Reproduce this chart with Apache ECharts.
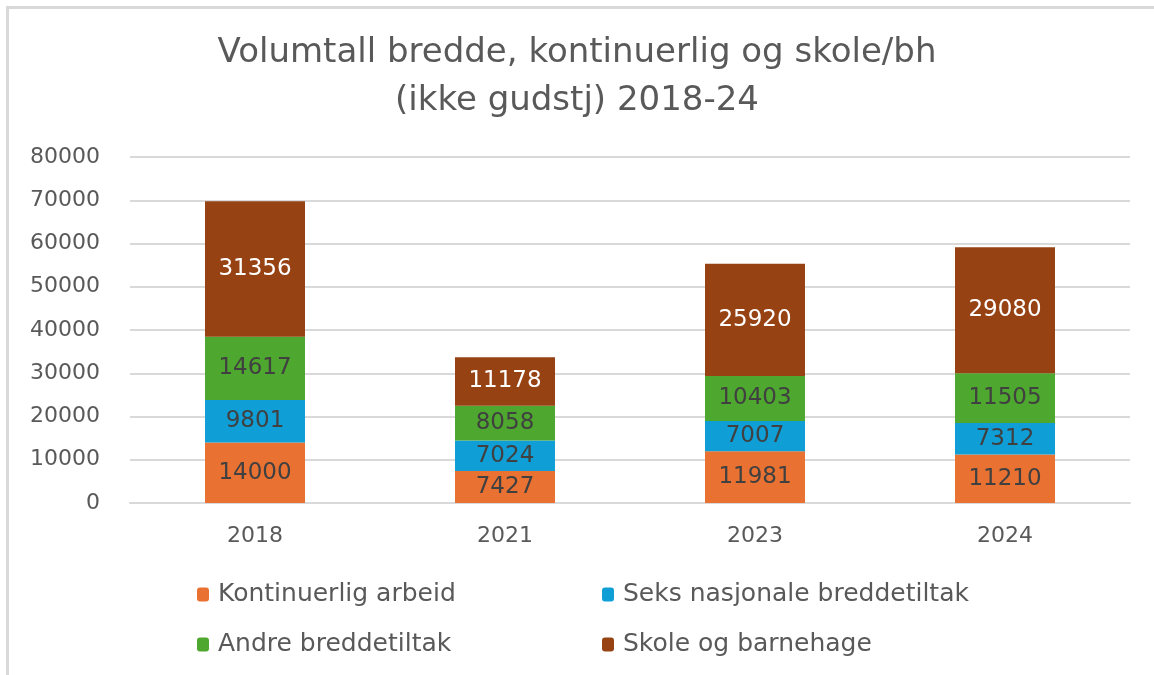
<!DOCTYPE html>
<html>
  <head>
    <meta charset="utf-8">
    <title>Volumtall bredde</title>
    <script src="https://cdn.jsdelivr.net/npm/echarts@6/dist/echarts.min.js"></script>
    <style>
      html, body { margin: 0; padding: 0; background: #fff; }
      #chart1 { width: 1154px; height: 675px; }
    </style>
  </head>
  <body>
    <div id="chart1"></div>
  </body>
  <script>
    // data
    var years = ['2018', '2021', '2023', '2024'];
    var kontinuerlig = [14000, 7427, 11981, 11210];
    var seks = [9801, 7024, 7007, 7312];
    var andre = [14617, 8058, 10403, 11505];
    var skole = [31356, 11178, 25920, 29080];
    var seriesNames = ['Kontinuerlig arbeid', 'Seks nasjonale breddetiltak', 'Andre breddetiltak', 'Skole og barnehage'];
    var colors = ['#E97132', '#0F9ED5', '#4EA72E', '#964213'];

    var numFont = 'DejaVu Sans';
    var textFont = 'DejaVu Sans';

    function bar(name, data, color, labelColor) {
      return {
        name: name,
        type: 'bar',
        stack: 'total',
        barWidth: '40%',
        data: data,
        itemStyle: { color: color },
        label: {
          show: true,
          position: 'inside',
          color: labelColor,
          fontFamily: numFont,
          fontSize: 23
        }
      };
    }

    function legendItem(name, left, top) {
      return {
        data: [name],
        left: left,
        top: top,
        itemWidth: 12,
        itemHeight: 14,
        itemGap: 0,
        textStyle: { color: '#595959', fontFamily: textFont, fontSize: 25, padding: [0, 0, 0, 4] }
      };
    }

    var myChart = echarts.init(document.getElementById('chart1'));
    var option = {
      color: colors,
      animation: false,
      title: {
        text: 'Volumtall bredde, kontinuerlig og skole/bh\n(ikke gudstj) 2018-24',
        left: 'center',
        top: 24,
        textStyle: {
          color: '#595959',
          fontFamily: textFont,
          fontWeight: 'normal',
          fontSize: 34,
          lineHeight: 48
        }
      },
      graphic: [
        // chart border (right and bottom fall outside the picture)
        { type: 'rect', shape: { x: 7.5, y: 7.5, width: 1200, height: 700 },
          style: { fill: null, stroke: '#D9D9D9', lineWidth: 3 } }
      ],
      legend: [
        legendItem(seriesNames[0], 192, 577),
        legendItem(seriesNames[1], 597, 577),
        legendItem(seriesNames[2], 192, 627),
        legendItem(seriesNames[3], 597, 627)
      ],
      grid: { left: 130, right: 24, top: 157, bottom: 172 },
      xAxis: {
        type: 'category',
        data: years,
        axisLine: { lineStyle: { color: '#D9D9D9', width: 2 } },
        axisTick: { show: false },
        axisLabel: { color: '#595959', fontFamily: numFont, fontSize: 22, margin: 22 }
      },
      yAxis: {
        type: 'value',
        min: 0,
        max: 80000,
        interval: 10000,
        axisLine: { show: false },
        axisTick: { show: false },
        splitLine: { lineStyle: { color: '#D9D9D9', width: 2 } },
        axisLabel: {
          color: '#595959', fontFamily: numFont, fontSize: 22, margin: 30,
          formatter: function (v) { return String(v); }
        }
      },
      series: [
        bar(seriesNames[0], kontinuerlig, colors[0], '#404040'),
        bar(seriesNames[1], seks, colors[1], '#404040'),
        bar(seriesNames[2], andre, colors[2], '#404040'),
        bar(seriesNames[3], skole, colors[3], '#FFFFFF')
      ]
    };
    myChart.setOption(option);
  </script>
</html>
